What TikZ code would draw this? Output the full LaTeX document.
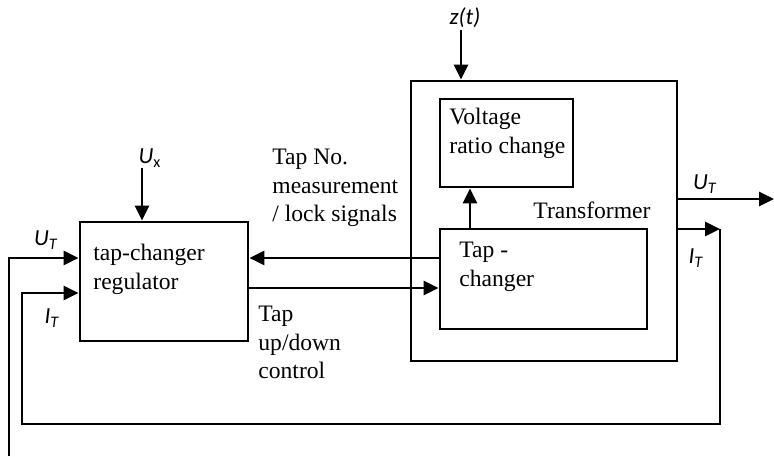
\documentclass[tikz,border=0pt]{standalone}
\usepackage{fontspec}
\setmainfont{Liberation Serif}
\newfontfamily\carl{Carlito}
\usetikzlibrary{arrows.meta}

\tikzset{
    box/.style={draw, line width=1.4pt, inner sep=0pt},
    txt/.style={anchor=north west, inner sep=0pt, align=left, font=\fontsize{11.8}{14.2}\selectfont},
    sig/.style={inner sep=0pt, font=\carl\itshape\fontsize{11.5}{13}\selectfont},
    arr/.style={line width=1.4pt, -{Triangle[length=7.5pt,width=7pt]}},
    wire/.style={line width=1.4pt}
}

\begin{document}
\begin{tikzpicture}[x=0.5pt, y=-0.5pt]
    \useasboundingbox (0,0) rectangle (774,456);

    % Bloecke
    \node[box, minimum width=84pt, minimum height=59.5pt] (reg) at (164,281.5) {};
    \node[box, minimum width=133pt, minimum height=140pt] (trafo) at (544,221) {};
    \node[box, minimum width=66.5pt, minimum height=44pt] (ratio) at (506.5,143) {};
    \node[box, minimum width=103.5pt, minimum height=50pt] (tap) at (543.5,279) {};

    % Texte in den Bloecken
    \node[txt] (regtxt) at (93,244) {tap-changer\\regulator};
    \node[txt] (ratiotxt) at (449,108) {Voltage\\ratio change};
    \node[txt] (taptxt) at (459,242) {Tap -\\changer};
    \node[txt] (trafotxt) at (533,201) {Transformer};
    \node[txt] (meastxt) at (272,149) {Tap No.\\measurement\\/ lock signals};
    \node[txt] (ctrltxt) at (258,306) {Tap\\up/down\\control};

    % Eingaenge
    \coordinate (zin) at (461,30);
    \coordinate (uxin) at (142,168);
    \node[sig] (zlab) at (465,18) {z(t)};
    \node[sig] (uxlab) at (150,158) {U\textsubscript{\upshape x}};
    \draw[arr] (zin) -- (zin |- trafo.north);
    \draw[arr] (uxin) -- (uxin |- reg.north);

    % Signale zwischen Regler und Stufenschalter
    \coordinate (tu) at (470,229);
    \draw[arr] (tu) -- (tu |- ratio.south);
    \draw[arr] (tap.west |- 0,258) -- (reg.east |- 0,258);
    \draw[arr] (reg.east |- 0,288) -- (tap.west |- 0,288);

    % Ausgaenge und Rueckfuehrung
    \coordinate (uout) at (774,199);
    \coordinate (ifb) at (720,229);
    \draw[arr] (trafo.east |- uout) -- (uout);
    \draw[arr] (trafo.east |- ifb) -- (ifb);
    \draw[arr] (ifb) -- (720,424) -- (22,424) |- (reg.west |- 0,293);
    \draw[arr] (9,456) |- (reg.west |- 0,258);

    \node[sig] (uoutlab) at (705,184) {U\textsubscript{T}};
    \node[sig] (ioutlab) at (696,258) {I\textsubscript{T}};
    \node[sig] (uinlab) at (46,240) {U\textsubscript{T}};
    \node[sig] (iinlab) at (52,318) {I\textsubscript{T}};
\end{tikzpicture}
\end{document}
